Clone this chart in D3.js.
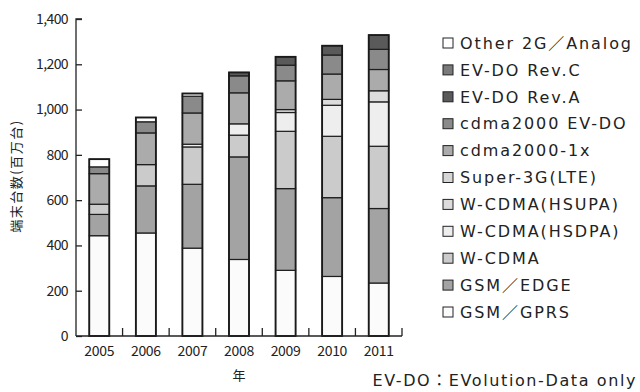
<!DOCTYPE html>
<html>
<head>
<meta charset="utf-8">
<script src="https://cdn.jsdelivr.net/npm/d3@7"></script>
<style>
  html, body { margin: 0; padding: 0; background: #fff; }
  svg { display: block; }
</style>
</head>
<body>
<div id="chart"></div>
<script>
// Categories and series, bottom of the stack first.
const years = ["2005", "2006", "2007", "2008", "2009", "2010", "2011"];
const gsmGprs    = [443, 455, 388, 338, 290, 263, 234];
const gsmEdge    = [94, 208, 282, 453, 361, 348, 329];
const wcdma      = [45, 94, 165, 96, 253, 271, 275];
const wcdmaHsdpa = [0, 0, 12, 50, 83, 137, 196];
const wcdmaHsupa = [0, 0, 0, 0, 13, 26, 49];
const super3g    = [0, 0, 0, 0, 0, 0, 0];
const cdma1x     = [135, 140, 138, 137, 127, 112, 94];
const cdmaEvdo   = [30, 49, 74, 75, 69, 84, 89];
const evdoRevA   = [0, 0, 0, 15, 37, 41, 63];
const evdoRevC   = [0, 0, 0, 0, 0, 0, 0];
const other2g    = [34, 19, 12, 0, 0, 0, 0];

const yTicks = [0, 200, 400, 600, 800, 1000, 1200, 1400];

// Series table (stack order) with labels and grey tones.
const series = [
    { key: "gprs",  label: "GSM／GPRS",       values: gsmGprs,    fill: "#fbfbfb" },
    { key: "edge",  label: "GSM／EDGE",       values: gsmEdge,    fill: "#a3a3a3" },
    { key: "wcdma", label: "W-CDMA",          values: wcdma,      fill: "#cbcbcb" },
    { key: "hsdpa", label: "W-CDMA(HSDPA)",   values: wcdmaHsdpa, fill: "#eeeeee" },
    { key: "hsupa", label: "W-CDMA(HSUPA)",   values: wcdmaHsupa, fill: "#dcdcdc" },
    { key: "lte",   label: "Super-3G(LTE)",   values: super3g,    fill: "#d6d6d6" },
    { key: "c1x",   label: "cdma2000-1x",     values: cdma1x,     fill: "#ababab" },
    { key: "evdo",  label: "cdma2000 EV-DO",  values: cdmaEvdo,   fill: "#8a8a8a" },
    { key: "revA",  label: "EV-DO Rev.A",     values: evdoRevA,   fill: "#5a5a5a" },
    { key: "revC",  label: "EV-DO Rev.C",     values: evdoRevC,   fill: "#7a7a7a" },
    { key: "other", label: "Other 2G／Analog", values: other2g,    fill: "#ffffff" }
];

const width = 640,
      height = 392;
const margin = { left: 76, right: 238, top: 19, bottom: 56 };

const jpFont = "'Noto Sans CJK JP', 'Noto Sans', sans-serif";
const latinFont = "'DejaVu Sans', 'Noto Sans CJK JP', sans-serif";

let svg = d3.select("#chart")
            .append("svg")
            .attr("width", width)
            .attr("height", height);

// Rows for d3.stack: one object per year.
const table = years.map((year, i) => {
    let row = { year };
    series.forEach(s => { row[s.key] = s.values[i]; });
    return row;
});

const stacked = d3.stack().keys(series.map(s => s.key))(table);

let x = d3.scaleBand()
          .domain(years)
          .range([margin.left, width - margin.right])
          .paddingInner(0.57)
          .paddingOuter(0.285);

let y = d3.scaleLinear()
          .domain([0, 1400])
          .range([height - margin.bottom, margin.top]);

const baseY = y(0);

/////// BARS ///////
let layer = svg.append("g")
    .selectAll("g")
    .data(stacked)
    .join("g")
    .attr("fill", (d, i) => series[i].fill);

layer.selectAll("rect")
    .data(d => d.filter(p => p[1] - p[0] > 0))
    .join("rect")
    .attr("x", d => x(d.data.year))
    .attr("y", d => y(d[1]))
    .attr("width", x.bandwidth())
    .attr("height", d => y(d[0]) - y(d[1]))
    .attr("stroke", "#1e1e1e")
    .attr("stroke-width", 1.2);

// Heavier outline around each whole bar.
svg.append("g")
    .selectAll("rect")
    .data(table)
    .join("rect")
    .attr("x", d => x(d.year))
    .attr("y", d => y(d3.sum(series, s => d[s.key])))
    .attr("width", x.bandwidth())
    .attr("height", d => baseY - y(d3.sum(series, s => d[s.key])))
    .attr("fill", "none")
    .attr("stroke", "#1a1a1a")
    .attr("stroke-width", 1.8);

/////// AXES ///////
let yAxis = svg.append("g")
    .attr("transform", `translate(${margin.left},0)`)
    .call(d3.axisRight(y).tickValues(yTicks).tickSize(6).tickFormat(""));

yAxis.select(".domain").attr("d", `M6,${y(1400)}H0V${baseY}`);
yAxis.selectAll("line").attr("stroke", "#222").attr("stroke-width", 1.3);
yAxis.select(".domain").attr("stroke", "#222").attr("stroke-width", 1.3);

svg.append("g")
    .selectAll("text")
    .data(yTicks)
    .join("text")
    .attr("x", margin.left - 8)
    .attr("y", d => y(d))
    .attr("dy", "0.35em")
    .attr("text-anchor", "end")
    .style("font", `14px ${jpFont}`)
    .style("letter-spacing", "-0.6px")
    .attr("fill", "#222")
    .text(d => d3.format(",")(d));

// X axis: baseline plus small upward ticks between the bars.
const step = x.step();
const xEnd = width - margin.right;
svg.append("path")
    .attr("d", `M${margin.left},${baseY}H${xEnd}`)
    .attr("stroke", "#222")
    .attr("stroke-width", 1.3)
    .attr("fill", "none");

svg.append("g")
    .selectAll("line")
    .data(years)
    .join("line")
    .attr("x1", d => x(d) + x.bandwidth() / 2 + step / 2)
    .attr("x2", d => x(d) + x.bandwidth() / 2 + step / 2)
    .attr("y1", baseY)
    .attr("y2", baseY - 8)
    .attr("stroke", "#222")
    .attr("stroke-width", 1.3);

svg.append("g")
    .selectAll("text")
    .data(years)
    .join("text")
    .attr("x", d => x(d) + x.bandwidth() / 2)
    .attr("y", baseY + 20)
    .attr("text-anchor", "middle")
    .style("font", `14px ${jpFont}`)
    .style("letter-spacing", "-0.3px")
    .attr("fill", "#222")
    .text(d => d);

svg.append("text")
    .attr("x", (margin.left + xEnd) / 2)
    .attr("y", 380)
    .attr("text-anchor", "middle")
    .style("font", `13px ${jpFont}`)
    .attr("fill", "#222")
    .text("年");

svg.append("text")
    .attr("transform", "translate(21,176) rotate(-90)")
    .attr("text-anchor", "middle")
    .style("font", `13px ${jpFont}`)
    .style("letter-spacing", "1.5px")
    .attr("fill", "#222")
    .text("端末台数(百万台)");

/////// LEGEND ///////
const legendItems = series.slice().reverse();
let legend = svg.append("g")
    .selectAll("g")
    .data(legendItems)
    .join("g")
    .attr("transform", (d, i) => `translate(443,${43 + i * 26.9})`);

legend.append("rect")
    .attr("x", 0)
    .attr("y", -5)
    .attr("width", 10)
    .attr("height", 10)
    .attr("fill", d => d.fill)
    .attr("stroke", "#222")
    .attr("stroke-width", 1);

legend.append("text")
    .attr("x", 17)
    .attr("dy", "0.36em")
    .style("font", `16px ${latinFont}`)
    .style("letter-spacing", "1.9px")
    .attr("fill", "#222")
    .text(d => d.label);

// Footnote
svg.append("text")
    .attr("x", 637)
    .attr("y", 380)
    .attr("dy", "0.36em")
    .attr("text-anchor", "end")
    .style("font", `16px ${latinFont}`)
    .style("letter-spacing", "1.6px")
    .attr("fill", "#222")
    .text("EV-DO：EVolution-Data only");
</script>
</body>
</html>
